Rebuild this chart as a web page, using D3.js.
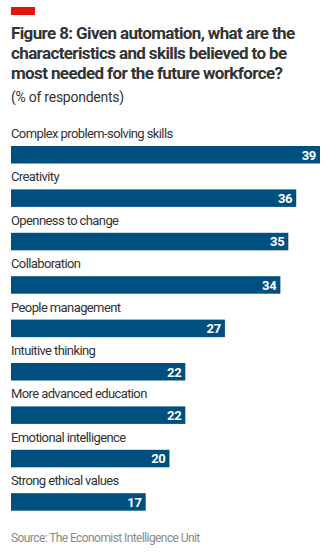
<!DOCTYPE html>
<html><head><meta charset="utf-8">
<script src="https://cdn.jsdelivr.net/npm/d3@7"></script>
<style>body{margin:0;background:#fff}</style>
</head><body>
<svg id="c" width="327" height="553"></svg>
<script>
const categories = ["Complex problem-solving skills","Creativity","Openness to change","Collaboration","People management","Intuitive thinking","More advanced education","Emotional intelligence","Strong ethical values"];
const values = [39,36,35,34,27,22,22,20,17];
const titleLines = ["Figure 8: Given automation, what are the","characteristics and skills believed to be","most needed for the future workforce?"];
const subtitle = "(% of respondents)";
const source = "Source: The Economist Intelligence Unit";

const svg = d3.select("#c");
const font = "Roboto, 'Open Sans', sans-serif";
svg.append("rect").attr("x",11).attr("y",7).attr("width",24).attr("height",8).attr("fill","#e3120b");
svg.selectAll("text.t").data(titleLines).join("text").attr("class","t")
  .attr("x",11).attr("y",(d,i)=>38.5+i*20.2)
  .attr("font-family",font).attr("font-weight","bold").attr("font-size",17)
  .attr("letter-spacing",-0.62)
  .attr("fill","#333").text(d=>d);
svg.append("text").attr("x",11).attr("y",102).attr("font-family",font).attr("font-size",14)
  .attr("letter-spacing",-0.25).attr("fill","#333").text(subtitle);

const step = 43.4, bh = 17.5;
const x = d3.scaleLinear().domain([0,39]).range([11,320]);
const y = d3.scaleBand().domain(categories)
  .range([146, 146 + step*(categories.length-1) + bh])
  .paddingInner(1 - bh/step).paddingOuter(0);

const g = svg.append("g");
const rows = g.selectAll("g.row").data(categories.map((c,i)=>({c, v: values[i]}))).join("g").attr("class","row");
rows.append("text").attr("x",11).attr("y",d=>y(d.c)-8).attr("font-family",font).attr("font-size",13)
   .attr("letter-spacing",-0.6).attr("fill","#333").text(d=>d.c);
rows.append("rect").attr("x",x(0)).attr("y",d=>y(d.c)).attr("width",d=>x(d.v)-x(0)).attr("height",y.bandwidth()).attr("fill","#00507f");
rows.append("text").attr("x",d=>x(d.v)-4).attr("y",d=>y(d.c)+13.5).attr("text-anchor","end")
   .attr("font-family",font).attr("font-weight","bold").attr("font-size",13).attr("letter-spacing",-0.3)
   .attr("fill","#fff").text(d=>d.v);
svg.append("text").attr("x",11).attr("y",542).attr("font-family",font).attr("font-size",12)
  .attr("letter-spacing",-0.58).attr("fill","#8a8a8a").text(source);
</script>
</body></html>
